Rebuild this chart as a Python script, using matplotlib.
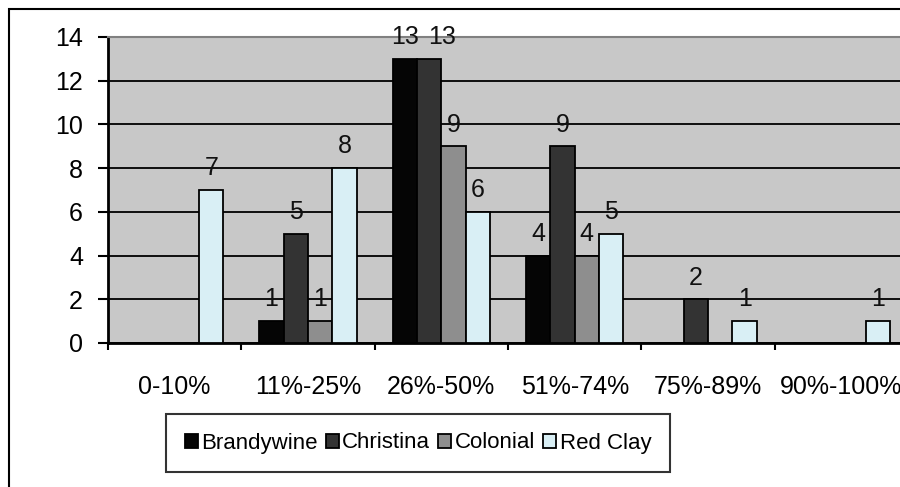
import numpy as np
import matplotlib.pyplot as plt
from matplotlib.patches import Rectangle

plt.rcParams['font.family'] = ['Liberation Sans', 'DejaVu Sans']

# participation ranges and district counts
categories = ['0-10%', '11%-25%', '26%-50%', '51%-74%', '75%-89%', '90%-100%']
brandywine = [0, 1, 13, 4, 0, 0]
christina = [0, 5, 13, 9, 2, 0]
colonial = [0, 1, 9, 4, 0, 0]
red_clay = [7, 8, 6, 5, 1, 1]

series = [
    ('Brandywine', brandywine, '#050505'),
    ('Christina', christina, '#333333'),
    ('Colonial', colonial, '#8e8e8e'),
    ('Red Clay', red_clay, '#d9eff5'),
]

# label nudges (points) so neighbouring labels don't collide
nudge = {(1, 2): 9}

fig = plt.figure(figsize=(9, 4.87), dpi=100)
# plot area runs a little past the right edge of the figure
ax = fig.add_axes([108 / 900, 144 / 487, 800 / 900, 306 / 487])
ax.set_facecolor('#c8c8c8')

x = np.arange(len(categories))
w = 0.183
for i, (name, vals, col) in enumerate(series):
    bars = ax.bar(x + (i - 1.5) * w, vals, w, color=col, edgecolor='black',
                  linewidth=1.3, label=name, zorder=3)
    for j, (b, v) in enumerate(zip(bars, vals)):
        if v == 0:
            continue
        ax.annotate(str(v), (b.get_x() + b.get_width() / 2, v),
                    xytext=(nudge.get((i, j), 0), 7), textcoords='offset points',
                    ha='center', va='bottom', fontsize=18, color='#111111',
                    annotation_clip=False, zorder=4)

ax.set_xlim(-0.5, len(categories) - 0.5)
ax.set_ylim(0, 14)
ax.set_yticks(range(0, 15, 2))
ax.yaxis.grid(True, color='black', linewidth=1.3, zorder=1)
ax.set_axisbelow(True)

# ticks on category boundaries, labels centred under each group
ax.set_xticks(np.arange(-0.5, len(categories), 1.0))
ax.set_xticklabels([])
ax.set_xticks(x, minor=True)
ax.set_xticklabels(categories, minor=True)
ax.tick_params(axis='x', which='major', length=5, width=1.5, direction='out')
ax.tick_params(axis='x', which='minor', length=0, pad=23, labelsize=18)
ax.tick_params(axis='y', length=7, width=1.5, pad=11, labelsize=18)

ax.spines['right'].set_visible(False)
ax.spines['top'].set_color('#808080')
ax.spines['top'].set_linewidth(1.5)
ax.spines['left'].set_linewidth(2)
ax.spines['bottom'].set_linewidth(2)

leg = ax.legend(loc='center', bbox_to_anchor=(418 / 900, (487 - 443) / 487),
                bbox_transform=fig.transFigure, ncol=4, fontsize=16,
                frameon=True, fancybox=False, handlelength=0.6,
                handleheight=0.6, handletextpad=0.15, columnspacing=0.35,
                borderpad=0.85, borderaxespad=0)
leg.get_frame().set_edgecolor('black')
leg.get_frame().set_linewidth(1.5)

# chart border
fig.patches.append(Rectangle((9 / 900, -0.1), 1.2, (478 / 487) + 0.1,
                             transform=fig.transFigure, fill=False,
                             edgecolor='black', linewidth=1.5))

fig.savefig('out.png', dpi=100)
